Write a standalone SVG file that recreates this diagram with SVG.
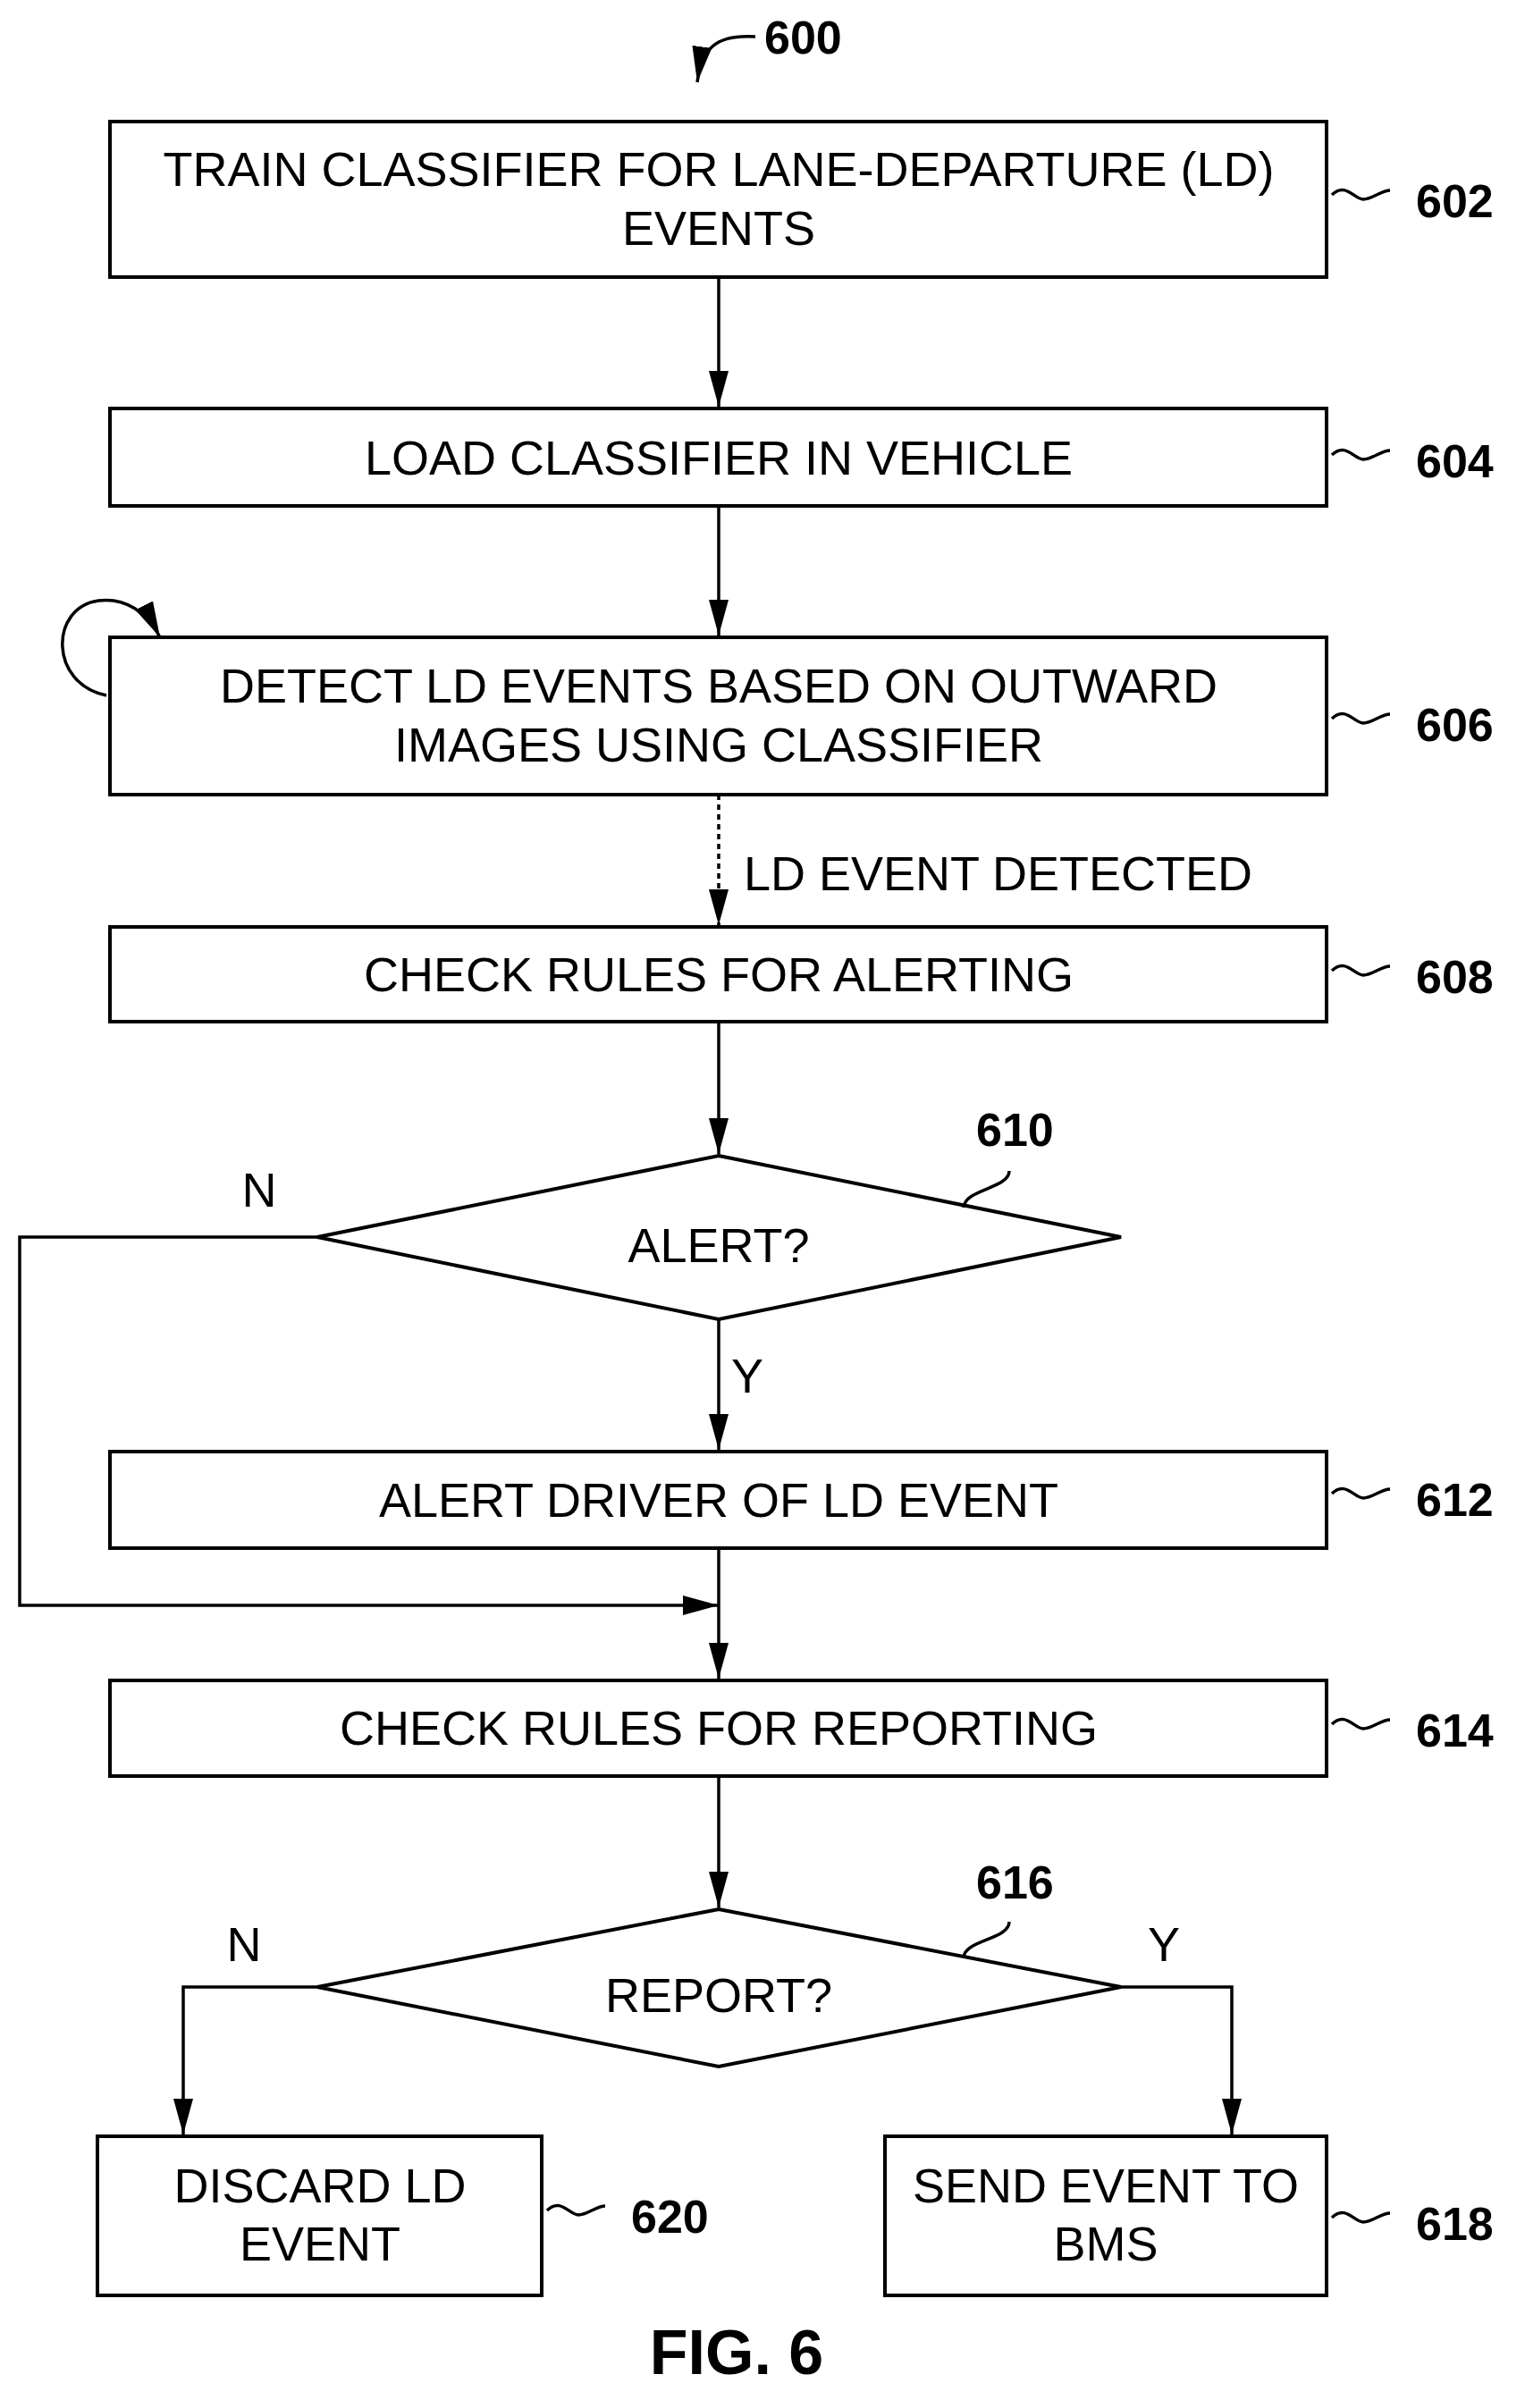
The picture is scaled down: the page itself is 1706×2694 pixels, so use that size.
<svg xmlns="http://www.w3.org/2000/svg" width="1706" height="2694" viewBox="0 0 1706 2694">
<style>
.b{fill:#fff;stroke:#000;stroke-width:4}
.t{font-family:"Liberation Sans",Arial,sans-serif;font-size:54px;text-anchor:middle;fill:#000}
.r{font-family:"Liberation Sans",Arial,sans-serif;font-size:52px;font-weight:bold;fill:#000}
.l{fill:none;stroke:#000;stroke-width:3.5}
</style>
<defs>
<marker id="A" markerWidth="40" markerHeight="22" refX="40" refY="11" orient="auto" markerUnits="userSpaceOnUse"><path d="M0,0L40,11L0,22z"/></marker></defs>
<g id="connectors">
<path class="l" d="M804,310V455" marker-end="url(#A)"/>
<path class="l" d="M804,566V711" marker-end="url(#A)"/>
<path class="l" d="M804,889V1035" stroke-dasharray="6,5" marker-end="url(#A)"/>
<path class="l" d="M804,1143V1291" marker-end="url(#A)"/>
<path class="l" d="M804,1476V1622" marker-end="url(#A)"/>
<path class="l" d="M804,1732V1878" marker-end="url(#A)"/>
<path class="l" d="M355,1384H22V1796H804" marker-end="url(#A)"/>
<path class="l" d="M804,1987V2134" marker-end="url(#A)"/>
<path class="l" d="M355,2223H205V2388" marker-end="url(#A)"/>
<path class="l" d="M1254,2223H1378V2388" marker-end="url(#A)"/>
<path class="l" d="M119,778C55,765 55,680 110,672C140,668 165,685 179,713" marker-end="url(#A)"/>
<path class="l" d="M845,41C800,38 785,55 780,92" marker-end="url(#A)"/>
</g>
<text class="t" x="832" y="996" style="text-anchor:start">LD EVENT DETECTED</text>
<text class="t" x="290" y="1350">N</text>
<text class="t" x="836" y="1558">Y</text>
<text class="t" x="273" y="2194">N</text>
<text class="t" x="1302" y="2194">Y</text>
<text class="r" x="855" y="60">600</text>
<g id="n602"><rect class="b" x="123" y="136" width="1361" height="174"/><text class="t" x="804" y="208">TRAIN CLASSIFIER FOR LANE-DEPARTURE (LD)</text><text class="t" x="804" y="274">EVENTS</text><path class="l" d="M1490,218c15,-15 25,5 35,5s20,-10 30,-10"/><text class="r" x="1584" y="243">602</text></g>
<g id="n604"><rect class="b" x="123" y="457" width="1361" height="109"/><text class="t" x="804" y="531">LOAD CLASSIFIER IN VEHICLE</text><path class="l" d="M1490,509c15,-15 25,5 35,5s20,-10 30,-10"/><text class="r" x="1584" y="534">604</text></g>
<g id="n606"><rect class="b" x="123" y="713" width="1361" height="176"/><text class="t" x="804" y="786">DETECT LD EVENTS BASED ON OUTWARD</text><text class="t" x="804" y="852">IMAGES USING CLASSIFIER</text><path class="l" d="M1490,804c15,-15 25,5 35,5s20,-10 30,-10"/><text class="r" x="1584" y="829">606</text></g>
<g id="n608"><rect class="b" x="123" y="1037" width="1361" height="106"/><text class="t" x="804" y="1109">CHECK RULES FOR ALERTING</text><path class="l" d="M1490,1086c15,-15 25,5 35,5s20,-10 30,-10"/><text class="r" x="1584" y="1111">608</text></g>
<g id="n610"><path class="b" d="M804,1293L1254,1384L804,1476L355,1384z"/><text class="t" x="804" y="1412">ALERT?</text><path class="l" d="M1129,1310c0,20 -50,20 -51,41"/><text class="r" x="1092" y="1282">610</text></g>
<g id="n612"><rect class="b" x="123" y="1624" width="1361" height="108"/><text class="t" x="804" y="1697">ALERT DRIVER OF LD EVENT</text><path class="l" d="M1490,1671c15,-15 25,5 35,5s20,-10 30,-10"/><text class="r" x="1584" y="1696">612</text></g>
<g id="n614"><rect class="b" x="123" y="1880" width="1361" height="107"/><text class="t" x="804" y="1952">CHECK RULES FOR REPORTING</text><path class="l" d="M1490,1929c15,-15 25,5 35,5s20,-10 30,-10"/><text class="r" x="1584" y="1954">614</text></g>
<g id="n616"><path class="b" d="M804,2136L1254,2223L804,2312L355,2223z"/><text class="t" x="804" y="2251">REPORT?</text><path class="l" d="M1129,2150c0,20 -50,20 -51,40"/><text class="r" x="1092" y="2124">616</text></g>
<g id="n620"><rect class="b" x="109" y="2390" width="497" height="178"/><text class="t" x="358" y="2464">DISCARD LD</text><text class="t" x="358" y="2529">EVENT</text><path class="l" d="M612,2473c15,-15 25,5 35,5s20,-10 30,-10"/><text class="r" x="706" y="2498">620</text></g>
<g id="n618"><rect class="b" x="990" y="2390" width="494" height="178"/><text class="t" x="1237" y="2464">SEND EVENT TO</text><text class="t" x="1237" y="2529">BMS</text><path class="l" d="M1490,2481c15,-15 25,5 35,5s20,-10 30,-10"/><text class="r" x="1584" y="2506">618</text></g>
<text x="824" y="2656" style="font-family:'Liberation Sans',Arial,sans-serif;font-size:70px;font-weight:bold;text-anchor:middle">FIG. 6</text>
</svg>
